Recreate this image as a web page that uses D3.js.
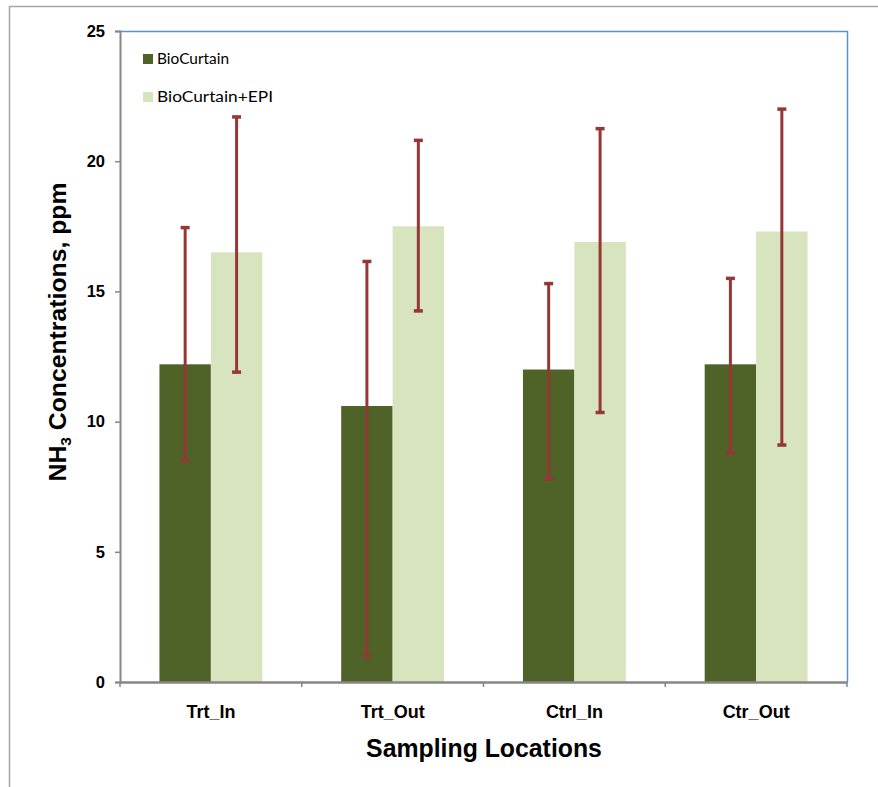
<!DOCTYPE html>
<html><head><meta charset="utf-8">
<script src="https://cdn.jsdelivr.net/npm/d3@7"></script>
<style>body{margin:0;background:#fff}svg{display:block}</style>
</head><body>
<svg id="c" width="878" height="787"></svg>
<script>
const categories = ["Trt_In", "Trt_Out", "Ctrl_In", "Ctr_Out"];
const seriesNames = ["BioCurtain", "BioCurtain+EPI"];
const bioCurtain = [12.2, 10.6, 12.0, 12.2];
const bioCurtainEPI = [16.5, 17.5, 16.9, 17.3];
const bioCurtainHigh = [17.45, 16.15, 15.3, 15.5];
const bioCurtainLow = [8.5, 1.0, 7.8, 8.8];
const epiHigh = [21.7, 20.8, 21.25, 22.0];
const epiLow = [11.9, 14.25, 10.35, 9.1];
const yTicks = [0, 5, 10, 15, 20, 25];
const colors = ["#4f6228", "#d7e4bd"];

const svg = d3.select("#c");
const L = 120, R = 847, T = 31, B = 682;
const FONT = "Liberation Sans, Arial, sans-serif";

function fitWidth(sel, target) {
  const w = sel.node().getComputedTextLength();
  return target / w;
}

// outer frame
svg.append("line").attr("x1", 9.5).attr("x2", 878).attr("y1", 6.5).attr("y2", 6.5).attr("stroke", "#a6a6a6").attr("stroke-width", 1.5);
svg.append("line").attr("x1", 9.5).attr("x2", 9.5).attr("y1", 6).attr("y2", 787).attr("stroke", "#a6a6a6").attr("stroke-width", 1.5);

const y = d3.scaleLinear().domain([0, 25]).range([B, T]);
const x0 = d3.scaleBand().domain(categories).range([L, R]).paddingInner(0).paddingOuter(0);
const x1 = d3.scaleBand().domain(seriesNames).range([x0.bandwidth()*0.217, x0.bandwidth()*0.783]);

// plot border top/right
svg.append("line").attr("x1", L).attr("x2", R + 0.5).attr("y1", T + 0.5).attr("y2", T + 0.5).attr("stroke", "#5b8fd6").attr("stroke-width", 1.5);
svg.append("line").attr("x1", R + 0.5).attr("x2", R + 0.5).attr("y1", T).attr("y2", B).attr("stroke", "#5b8fd6").attr("stroke-width", 1.5);

const series = [
  {name: seriesNames[0], vals: bioCurtain, hi: bioCurtainHigh, lo: bioCurtainLow, color: colors[0]},
  {name: seriesNames[1], vals: bioCurtainEPI, hi: epiHigh, lo: epiLow, color: colors[1]}
];

const g = svg.append("g");
series.forEach(s => {
  g.selectAll(null).data(categories).enter().append("rect")
    .attr("x", (d) => x0(d) + x1(s.name))
    .attr("width", x1.bandwidth())
    .attr("y", (d, i) => y(s.vals[i]))
    .attr("height", (d, i) => y(0) - y(s.vals[i]))
    .attr("fill", s.color);
});

// axes
const yAxis = d3.axisLeft(y).tickValues(yTicks).tickSize(5).tickPadding(10);
const ya = svg.append("g").attr("transform", `translate(${L},0)`).call(yAxis);
ya.select(".domain").attr("stroke", "#868686").attr("stroke-width", 2);
ya.selectAll(".tick line").attr("stroke", "#868686").attr("stroke-width", 1.5);
ya.selectAll(".tick text").attr("font-family", FONT).attr("font-weight", "bold").attr("font-size", 16.5).attr("fill", "#000");

const xAxis = d3.axisBottom(x0).tickSize(0).tickPadding(0);
const xa = svg.append("g").attr("transform", `translate(0,${B})`).call(xAxis);
xa.select(".domain").attr("stroke", "#868686").attr("stroke-width", 2.5);
xa.selectAll(".tick text").attr("font-family", FONT).attr("font-weight", "bold").attr("font-size", 18).attr("fill", "#000")
  .attr("y", 36).attr("dy", 0);
xa.selectAll(null).data(d3.range(categories.length + 1)).enter().append("line")
  .attr("x1", i => L + i * x0.step()).attr("x2", i => L + i * x0.step())
  .attr("y1", 0).attr("y2", 5).attr("stroke", "#868686").attr("stroke-width", 1.5);

// error bars
series.forEach(s => {
  const ge = svg.append("g").attr("stroke", "#953735");
  categories.forEach((c, i) => {
    const cx = x0(c) + x1(s.name) + x1.bandwidth() / 2;
    ge.append("line").attr("x1", cx).attr("x2", cx).attr("y1", y(s.hi[i])).attr("y2", y(s.lo[i])).attr("stroke-width", 3);
    [s.hi[i], s.lo[i]].forEach(v => {
      ge.append("line").attr("x1", cx - 4.5).attr("x2", cx + 4.5).attr("y1", y(v)).attr("y2", y(v)).attr("stroke-width", 3.5);
    });
  });
});

// legend
const legendW = [72, 116];
series.forEach((s, i) => {
  const ly = 59 + i * 38;
  svg.append("rect").attr("x", 143).attr("y", ly - 5).attr("width", 10).attr("height", 10).attr("fill", s.color);
  svg.append("text").attr("x", 157).attr("y", ly).attr("dy", "0.35em")
    .attr("font-family", "Lato, 'Open Sans', sans-serif").attr("font-size", 14.5).attr("fill", "#000")
    .attr("textLength", legendW[i]).attr("lengthAdjust", "spacingAndGlyphs").text(s.name);
});

// y axis title
const yt = svg.append("text").attr("text-anchor", "middle")
  .attr("font-family", FONT).attr("font-weight", "bold").attr("font-size", 24).attr("fill", "#000");
yt.append("tspan").text("NH");
yt.append("tspan").attr("font-size", 15).attr("dy", 5).text("3");
yt.append("tspan").attr("dy", -5).text(" Concentrations, ppm");
const sy = fitWidth(yt, 299);
yt.attr("transform", `translate(66,332) rotate(-90) scale(${sy},1)`);

// x axis title
const xt = svg.append("text").attr("text-anchor", "middle")
  .attr("font-family", FONT).attr("font-weight", "bold").attr("font-size", 26).attr("fill", "#000")
  .text("Sampling Locations");
const sx = fitWidth(xt, 236);
xt.attr("transform", `translate(484,757) scale(${sx},1)`);
</script>
</body></html>
